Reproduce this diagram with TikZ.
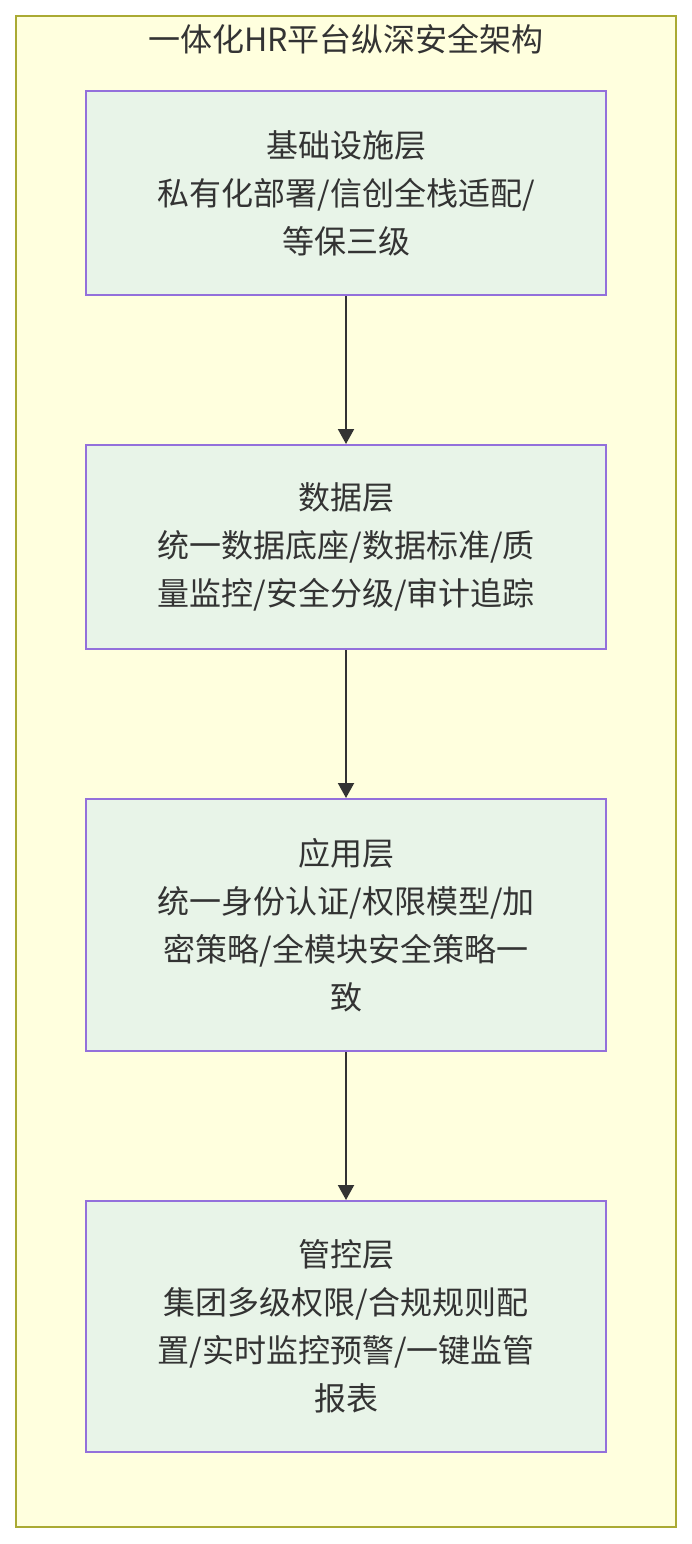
\documentclass[tikz,border=0pt]{standalone}
\usepackage{fontspec}
\setmainfont{Noto Sans CJK SC}
\usetikzlibrary{arrows.meta,positioning,fit,backgrounds}
\definecolor{layerfill}{HTML}{E8F4E8}
\definecolor{layeredge}{HTML}{9370DB}
\definecolor{groupfill}{HTML}{FFFFDE}
\definecolor{groupedge}{HTML}{AAAA33}
\definecolor{ink}{HTML}{333333}

\begin{document}
\begin{tikzpicture}[
    x=1pt,y=1pt,
    layer/.style={draw=layeredge,fill=layerfill,line width=2pt,rectangle,align=center,
      minimum width=520pt,inner sep=0pt,text=ink,font=\fontsize{32}{48}\selectfont},
    >={Triangle[length=15pt,width=16pt]}
]
\useasboundingbox (0,0) rectangle (692,-1544);
\node[layer,minimum height=204pt] (infra) at (346,-193) {基础设施层\\私有化部署/信创全栈适配/\\等保三级};
\node[layer,below=148pt of infra,minimum height=204pt] (data) {数据层\\统一数据底座/数据标准/质\\量监控/安全分级/审计追踪};
\node[layer,below=148pt of data,minimum height=252pt] (app) {应用层\\统一身份认证/权限模型/加\\密策略/全模块安全策略一\\致};
\node[layer,below=148pt of app,minimum height=251pt] (ctrl) {管控层\\集团多级权限/合规规则配\\置/实时监控预警/一键监管\\报表};
\draw[->,draw=ink,line width=2pt] (infra) -- (data);
\draw[->,draw=ink,line width=2pt] (data) -- (app);
\draw[->,draw=ink,line width=2pt] (app) -- (ctrl);
\begin{scope}[on background layer]
\node[draw=groupedge,fill=groupfill,line width=2pt,inner xsep=69pt,inner ysep=74pt,fit=(infra)(ctrl)] (platform) {};
\end{scope}
\node[text=ink,font=\fontsize{32}{48}\selectfont] (heading) at ([yshift=-24pt]platform.north) {一体化HR平台纵深安全架构};
\end{tikzpicture}
\end{document}
